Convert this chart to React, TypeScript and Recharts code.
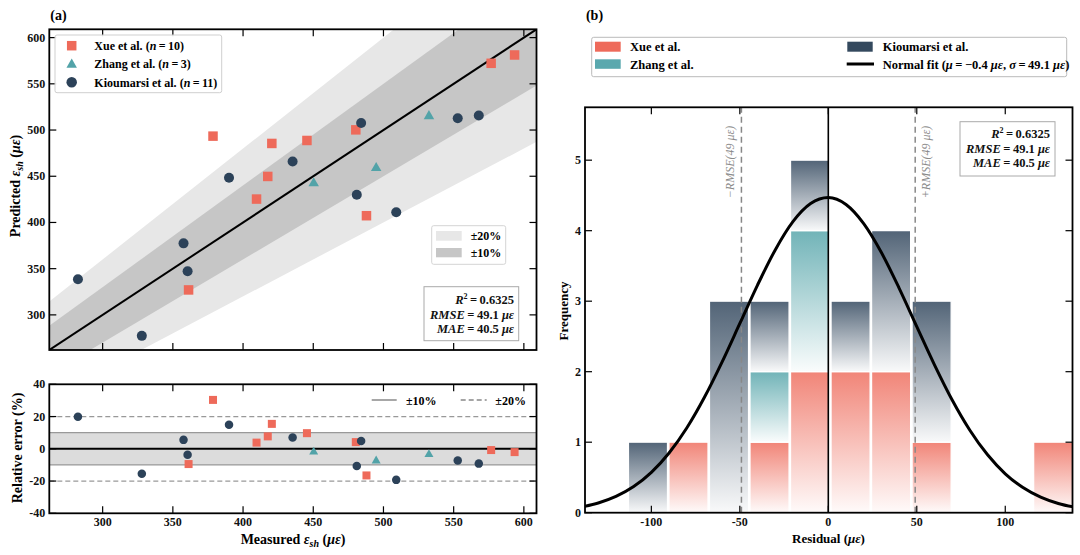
import React from 'react';
import {
  ComposedChart, BarChart, LineChart, Bar, Line, Area, Scatter,
  XAxis, YAxis, ReferenceLine, ReferenceArea,
} from 'recharts';

const FONT = '"Liberation Serif", "Times New Roman", serif';

const XUE = '#EE6A5A';
const ZHANG = '#52A3A8';
const KIOU = '#2C4259';

// measured vs predicted shrinkage strain (με)
const xueMeasured = [361.2, 378.6, 409.6, 417.6, 420.5, 445.5, 480.3, 487.9, 576.7, 593.4];
const xuePredicted = [327, 493.4, 425.3, 449.8, 485.5, 488.7, 500.2, 407.3, 572.2, 581.2];
const zhangMeasured = [450.3, 494.8, 532.4];
const zhangPredicted = [443, 459.6, 515.7];
const kiouMeasured = [282.4, 327.9, 357.6, 360.5, 390, 435.3, 481, 484.1, 509.1, 552.9, 567.9];
const kiouPredicted = [338.6, 277.3, 377.4, 347.2, 448.3, 466, 430, 507.7, 411, 512.8, 515.7];

const strainDomain = [262, 609];
const strainTicks = [300, 350, 400, 450, 500, 550, 600];
const errorTicks = [-40, -20, 0, 20, 40];

// residual histogram (bin centres, counts per source)
const binCenters = [-102.05, -79.15, -56.25, -33.35, -10.45, 12.45, 35.35, 58.25, 126.95];
const xueCounts = [0, 1, 0, 1, 2, 2, 2, 1, 1];
const zhangCounts = [0, 0, 0, 1, 2, 0, 0, 0, 0];
const kiouCounts = [1, 0, 3, 1, 1, 1, 2, 2, 0];
const histDomain = [-137.5, 138];
const residualTicks = [-100, -50, 0, 50, 100];
const freqTicks = [0, 1, 2, 3, 4, 5];
const rmse = 49.1;

// normal fit curve
const fitX = [-140, -130, -120, -110, -100, -90, -80, -70, -60, -50, -40, -30, -20, -10, 0,
  10, 20, 30, 40, 50, 60, 70, 80, 90, 100, 110, 120, 130, 140];
const fitY = [0.079, 0.137, 0.23, 0.37, 0.571, 0.846, 1.201, 1.637, 2.14, 2.684, 3.229, 3.727, 4.128, 4.385, 4.47,
  4.371, 4.1, 3.69, 3.186, 2.64, 2.098, 1.599, 1.17, 0.821, 0.552, 0.357, 0.221, 0.131, 0.075];

const series = [
  { name: 'Xue et al.', color: XUE, kind: 'square', measured: xueMeasured, predicted: xuePredicted, grad: 'gXue' },
  { name: 'Zhang et al.', color: ZHANG, kind: 'triangle', measured: zhangMeasured, predicted: zhangPredicted, grad: 'gZhang' },
  { name: 'Kioumarsi et al.', color: KIOU, kind: 'circle', measured: kiouMeasured, predicted: kiouPredicted, grad: 'gKiou' },
];

const bandData = strainDomain.map((x) => ({
  x,
  band20: [x * 0.8, x * 1.2],
  band10: [x * 0.9, x * 1.1],
  diag: x,
}));

const histData = binCenters.map((x, i) => ({ x, xue: xueCounts[i], zhang: zhangCounts[i], kiou: kiouCounts[i] }));
const fitData = fitX.map((x, i) => ({ x, fit: fitY[i] }));

type Box = { l: number; r: number; t: number; b: number };

const Marker = ({ kind, cx, cy, s, color }: any) => {
  if (kind === 'square') return <rect x={cx - s / 2} y={cy - s / 2} width={s} height={s} fill={color} />;
  if (kind === 'triangle') {
    const h = s * 0.87;
    return <polygon points={`${cx},${cy - h * 0.6} ${cx - s / 2},${cy + h * 0.4} ${cx + s / 2},${cy + h * 0.4}`} fill={color} />;
  }
  return <circle cx={cx} cy={cy} r={s / 2} fill={color} />;
};

const TICK = 7;

const xTick = (box: Box, labelGap: number | null) => (props: any) => {
  const { x, payload } = props;
  return (
    <g>
      <line x1={x} x2={x} y1={box.b} y2={box.b - TICK} stroke="#000" strokeWidth={1.2} />
      <line x1={x} x2={x} y1={box.t} y2={box.t + TICK} stroke="#000" strokeWidth={1.2} />
      {labelGap !== null && (
        <text x={x} y={box.b + labelGap} textAnchor="middle" fontFamily={FONT} fontWeight="bold" fontSize={12} fill="#111">
          {payload.value}
        </text>
      )}
    </g>
  );
};

const yTick = (box: Box) => (props: any) => {
  const { y, payload } = props;
  return (
    <g>
      <line x1={box.l} x2={box.l + TICK} y1={y} y2={y} stroke="#000" strokeWidth={1.2} />
      <line x1={box.r} x2={box.r - TICK} y1={y} y2={y} stroke="#000" strokeWidth={1.2} />
      <text x={box.l - 4} y={y + 4} textAnchor="end" fontFamily={FONT} fontWeight="bold" fontSize={12} fill="#111">
        {payload.value}
      </text>
    </g>
  );
};

const ParityChart = () => {
  const box = { l: 49.3, r: 536.5, t: 29.3, b: 350 };
  return (
    <div style={{ position: 'absolute', left: 0, top: 0 }}>
      <ComposedChart width={545} height={360} data={bandData} margin={{ top: 29.3, right: 8.5, bottom: 0, left: 0 }}>
        <XAxis type="number" dataKey="x" domain={strainDomain} ticks={strainTicks} allowDataOverflow interval={0}
          height={10} axisLine={false} tickLine={false} tick={xTick(box, null)} />
        <YAxis type="number" domain={strainDomain} ticks={strainTicks} allowDataOverflow interval={0}
          width={49.3} axisLine={false} tickLine={false} tick={yTick(box)} />
        <Area dataKey="band20" type="linear" stroke="none" fill="#E7E7E7" fillOpacity={1} dot={false} activeDot={false} isAnimationActive={false} />
        <Area dataKey="band10" type="linear" stroke="none" fill="#C6C6C6" fillOpacity={1} dot={false} activeDot={false} isAnimationActive={false} />
        <Line dataKey="diag" type="linear" stroke="#000" strokeWidth={2} dot={false} activeDot={false} isAnimationActive={false} />
        {series.map((s) => (
          <Scatter key={s.name} dataKey="y" isAnimationActive={false}
            data={s.measured.map((m, i) => ({ x: m, y: s.predicted[i] }))}
            shape={(p: any) => <Marker kind={s.kind} cx={p.cx} cy={p.cy} s={s.kind === 'triangle' ? 10.5 : s.kind === 'square' ? 9.5 : 10} color={s.color} />} />
        ))}
      </ComposedChart>
    </div>
  );
};

const ErrorChart = () => {
  const box = { l: 49.3, r: 536.5, t: 14.3, b: 143.3 };
  return (
    <div style={{ position: 'absolute', left: 0, top: 370 }}>
      <ComposedChart width={545} height={185} margin={{ top: 14.3, right: 8.5, bottom: 0, left: 0 }}>
        <XAxis type="number" dataKey="x" domain={strainDomain} ticks={strainTicks} allowDataOverflow interval={0}
          height={41.7} axisLine={false} tickLine={false} tick={xTick(box, 12.5)} />
        <YAxis type="number" domain={[-40, 40]} ticks={errorTicks} allowDataOverflow interval={0}
          width={49.3} axisLine={false} tickLine={false} tick={yTick(box)} />
        <ReferenceArea y1={-10} y2={10} fill="#DCDCDC" fillOpacity={1} stroke="none" />
        <ReferenceLine y={10} stroke="#999" strokeWidth={1.3} />
        <ReferenceLine y={-10} stroke="#999" strokeWidth={1.3} />
        <ReferenceLine y={20} stroke="#999" strokeWidth={1.3} strokeDasharray="5 3" />
        <ReferenceLine y={-20} stroke="#999" strokeWidth={1.3} strokeDasharray="5 3" />
        <ReferenceLine y={0} stroke="#000" strokeWidth={2} />
        {series.map((s) => (
          <Scatter key={s.name} dataKey="y" isAnimationActive={false}
            data={s.measured.map((m, i) => ({ x: m, y: ((s.predicted[i] - m) / m) * 100 }))}
            shape={(p: any) => <Marker kind={s.kind} cx={p.cx} cy={p.cy} s={s.kind === 'circle' ? 8.5 : s.kind === 'triangle' ? 9 : 8} color={s.color} />} />
        ))}
      </ComposedChart>
    </div>
  );
};

const HistChart = () => {
  const box = { l: 25, r: 512.5, t: 17.3, b: 422.7 };
  return (
    <div style={{ position: 'absolute', left: 560, top: 90 }}>
      <BarChart width={520} height={465} data={histData} margin={{ top: 17.3, right: 7.5, bottom: 0, left: 0 }}>
        <defs>
          {series.map((s) => (
            <linearGradient key={s.grad} id={s.grad} x1="0" y1="0" x2="0" y2="1">
              <stop offset="0%" stopColor={s.color} stopOpacity={0.82} />
              <stop offset="100%" stopColor={s.color} stopOpacity={0.03} />
            </linearGradient>
          ))}
        </defs>
        <XAxis type="number" dataKey="x" domain={histDomain} ticks={residualTicks} allowDataOverflow interval={0}
          height={42.3} axisLine={false} tickLine={false} tick={xTick(box, 13)} />
        <YAxis type="number" domain={[0, 5.75]} ticks={freqTicks} allowDataOverflow interval={0}
          width={25} axisLine={false} tickLine={false} tick={yTick(box)} />
        <Bar dataKey="xue" stackId="h" barSize={39} fill="url(#gXue)" stroke="#fff" strokeWidth={1.2} isAnimationActive={false} />
        <Bar dataKey="zhang" stackId="h" barSize={39} fill="url(#gZhang)" stroke="#fff" strokeWidth={1.2} isAnimationActive={false} />
        <Bar dataKey="kiou" stackId="h" barSize={39} fill="url(#gKiou)" stroke="#fff" strokeWidth={1.2} isAnimationActive={false} />
        <ReferenceLine x={-rmse} stroke="#888" strokeWidth={1.5} strokeDasharray="6 4" />
        <ReferenceLine x={rmse} stroke="#888" strokeWidth={1.5} strokeDasharray="6 4" />
        <ReferenceLine x={0} stroke="#000" strokeWidth={1.6} />
      </BarChart>
    </div>
  );
};

const FitOverlay = () => (
  <div style={{ position: 'absolute', left: 560, top: 90 }}>
    <LineChart width={520} height={465} data={fitData} margin={{ top: 17.3, right: 7.5, bottom: 42.3, left: 25 }}>
      <XAxis hide type="number" dataKey="x" domain={histDomain} allowDataOverflow />
      <YAxis hide type="number" domain={[0, 5.75]} allowDataOverflow />
      <Line dataKey="fit" type="monotone" stroke="#000" strokeWidth={3} dot={false} activeDot={false} isAnimationActive={false} />
    </LineChart>
  </div>
);

const Stats = ({ right, y0 }: { right: number; y0: number }) => (
  <g fontFamily={FONT} fontWeight="bold" fontSize={12.5} fill="#111" textAnchor="end">
    <text x={right} y={y0}>
      <tspan fontStyle="italic">R</tspan><tspan dy={-5} fontSize={8}>2</tspan><tspan dy={5}>{'\u2009=\u20090.6325'}</tspan>
    </text>
    <text x={right} y={y0 + 15}>
      <tspan fontStyle="italic">RMSE</tspan><tspan>{'\u2009=\u200949.1 '}</tspan><tspan fontStyle="italic">με</tspan>
    </text>
    <text x={right} y={y0 + 29}>
      <tspan fontStyle="italic">MAE</tspan><tspan>{'\u2009=\u200940.5 '}</tspan><tspan fontStyle="italic">με</tspan>
    </text>
  </g>
);

const Overlay = () => (
  <svg width={1080} height={555} style={{ position: 'absolute', left: 0, top: 0, pointerEvents: 'none' }}
    fontFamily={FONT}>
    {/* frames */}
    <rect x={49.3} y={29.3} width={487.2} height={320.7} fill="none" stroke="#000" strokeWidth={1.8} />
    <rect x={49.3} y={384.3} width={487.2} height={129} fill="none" stroke="#000" strokeWidth={1.8} />
    <rect x={585} y={107.3} width={487.5} height={405.4} fill="none" stroke="#000" strokeWidth={1.8} />

    {/* panel labels */}
    <text x={58.5} y={20} textAnchor="middle" fontWeight="bold" fontSize={14}>(a)</text>
    <text x={594.5} y={20} textAnchor="middle" fontWeight="bold" fontSize={14}>(b)</text>

    {/* axis titles */}
    <text transform="translate(20,186) rotate(-90)" textAnchor="middle" fontWeight="bold" fontSize={14}>
      <tspan>Predicted </tspan><tspan fontStyle="italic">ε</tspan><tspan fontStyle="italic" fontSize={10} dy={3}>sh</tspan>
      <tspan dy={-3}> (</tspan><tspan fontStyle="italic">με</tspan><tspan>)</tspan>
    </text>
    <text transform="translate(22,448) rotate(-90)" textAnchor="middle" fontWeight="bold" fontSize={14}>Relative error (%)</text>
    <text x={293} y={544} textAnchor="middle" fontWeight="bold" fontSize={14}>
      <tspan>Measured </tspan><tspan fontStyle="italic">ε</tspan><tspan fontStyle="italic" fontSize={10} dy={3}>sh</tspan>
      <tspan dy={-3}> (</tspan><tspan fontStyle="italic">με</tspan><tspan>)</tspan>
    </text>
    <text transform="translate(568,311) rotate(-90)" textAnchor="middle" fontWeight="bold" fontSize={13}>Frequency</text>
    <text x={828.5} y={543} textAnchor="middle" fontWeight="bold" fontSize={13}>
      <tspan>Residual (</tspan><tspan fontStyle="italic">με</tspan><tspan>)</tspan>
    </text>

    {/* parity legend */}
    <rect x={55} y={35} width={166.7} height={57.7} rx={2} fill="#fff" fillOpacity={0.85} stroke="#cfcfcf" strokeWidth={1} />
    {series.map((s, i) => {
      const cy = 45.7 + i * 18.3;
      const n = s.measured.length;
      return (
        <g key={s.name}>
          <Marker kind={s.kind} cx={71.7} cy={cy} s={s.kind === 'square' ? 9.5 : 10.5} color={s.color} />
          <text x={94.3} y={cy + 4.3} fontWeight="bold" fontSize={12}>
            <tspan>{s.name} (</tspan><tspan fontStyle="italic">n</tspan><tspan>{'\u2009=\u2009'}{n})</tspan>
          </text>
        </g>
      );
    })}

    {/* band legend */}
    <rect x={431.7} y={225.7} width={74} height={38.6} rx={2} fill="#fff" stroke="#d4d4d4" strokeWidth={1} />
    <rect x={436} y={231} width={25.7} height={9.7} fill="#E7E7E7" />
    <rect x={436} y={248} width={25.7} height={9.3} fill="#C6C6C6" />
    <text x={470.7} y={240} fontWeight="bold" fontSize={12}>±20%</text>
    <text x={470.7} y={257} fontWeight="bold" fontSize={12}>±10%</text>

    {/* stats box left */}
    <rect x={424} y={286.7} width={94.7} height={54} fill="#fff" stroke="#aaa" strokeWidth={1} />
    <Stats right={514} y0={303.5} />

    {/* error legend */}
    <line x1={371.7} x2={396.7} y1={400} y2={400} stroke="#777" strokeWidth={1.3} />
    <text x={406} y={404.5} fontWeight="bold" fontSize={12}>±10%</text>
    <line x1={460.7} x2={486.7} y1={400} y2={400} stroke="#888" strokeWidth={1.3} strokeDasharray="5 3" />
    <text x={495.3} y={404.5} fontWeight="bold" fontSize={12}>±20%</text>

    {/* histogram legend */}
    <rect x={591.7} y={37.3} width={475} height={39.4} rx={2} fill="#fff" stroke="#bbb" strokeWidth={1} />
    <rect x={595} y={41.7} width={25.7} height={10} fill={XUE} />
    <text x={630} y={51} fontWeight="bold" fontSize={12.5}>{series[0].name}</text>
    <rect x={595} y={59.3} width={25.7} height={9.5} fill="#5AA8AE" />
    <text x={630} y={68.5} fontWeight="bold" fontSize={12.5}>{series[1].name}</text>
    <rect x={847.3} y={41.7} width={25.4} height={10} fill="#34495E" />
    <text x={882.7} y={51} fontWeight="bold" fontSize={12.5}>{series[2].name}</text>
    <line x1={846.7} x2={874} y1={64} y2={64} stroke="#000" strokeWidth={3} />
    <text x={882.7} y={68.5} fontWeight="bold" fontSize={12.5}>
      <tspan>Normal fit (</tspan><tspan fontStyle="italic">μ</tspan><tspan>{'\u2009=\u2009−0.4 '}</tspan><tspan fontStyle="italic">με</tspan>
      <tspan>, </tspan><tspan fontStyle="italic">σ</tspan><tspan>{'\u2009=\u200949.1 '}</tspan><tspan fontStyle="italic">με</tspan><tspan>)</tspan>
    </text>

    {/* RMSE labels */}
    <text transform="translate(734,162) rotate(-90)" textAnchor="middle" fontStyle="italic" fontSize={12} fill="#8a8a8a">−RMSE(49 με)</text>
    <text transform="translate(930,162) rotate(-90)" textAnchor="middle" fontStyle="italic" fontSize={12} fill="#8a8a8a">+RMSE(49 με)</text>

    {/* stats box right */}
    <rect x={960} y={121.7} width={95} height={54.3} fill="#fff" stroke="#aaa" strokeWidth={1} />
    <Stats right={1050} y0={137.5} />
  </svg>
);

const App = () => (
  <div style={{ position: 'absolute', left: 0, top: 0, width: 1080, height: 555, background: '#fff', fontFamily: FONT }}>
    <ParityChart />
    <ErrorChart />
    <HistChart />
    <FitOverlay />
    <Overlay />
  </div>
);

export default App;
